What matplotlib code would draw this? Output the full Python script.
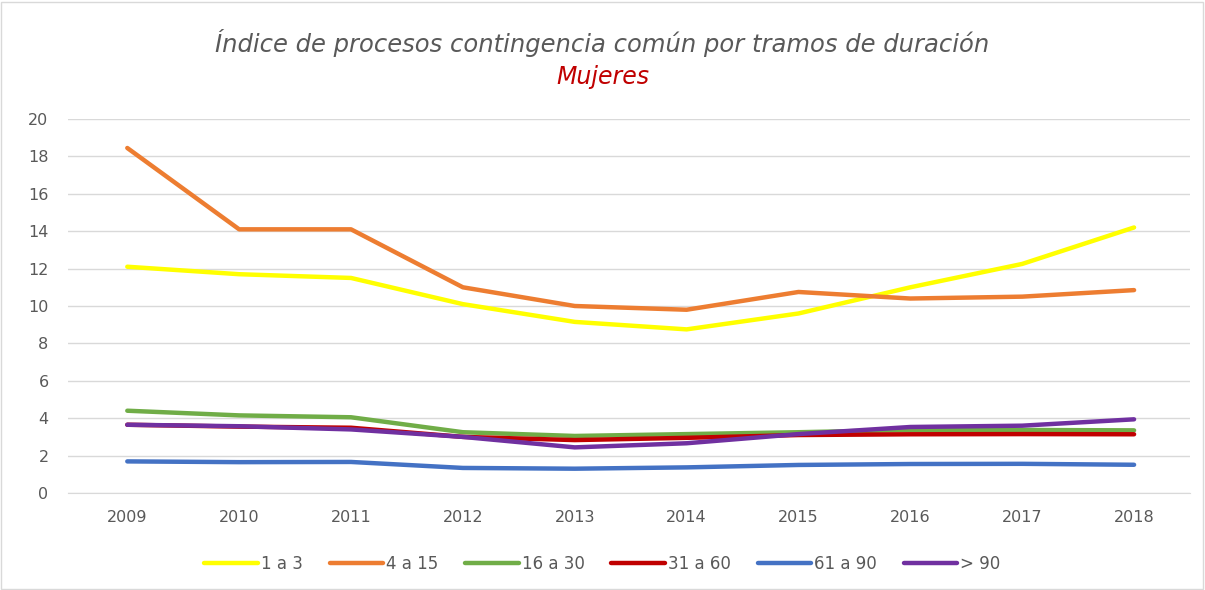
import matplotlib
matplotlib.use("Agg")
import matplotlib.pyplot as plt
from matplotlib.patches import Rectangle

years = ["2009", "2010", "2011", "2012", "2013", "2014", "2015", "2016", "2017", "2018"]
series_names = ["1 a 3", "4 a 15", "16 a 30", "31 a 60", "61 a 90", "> 90"]
s_1a3 = [12.1, 11.7, 11.5, 10.1, 9.15, 8.75, 9.6, 11.0, 12.25, 14.2]
s_4a15 = [18.45, 14.1, 14.1, 11.0, 10.0, 9.8, 10.75, 10.4, 10.5, 10.85]
s_16a30 = [4.4, 4.15, 4.05, 3.25, 3.05, 3.15, 3.25, 3.37, 3.37, 3.35]
s_31a60 = [3.65, 3.55, 3.49, 3.0, 2.83, 2.95, 3.1, 3.14, 3.15, 3.14]
s_61a90 = [1.69, 1.65, 1.66, 1.34, 1.3, 1.37, 1.5, 1.55, 1.56, 1.51]
s_gt90 = [3.65, 3.57, 3.4, 3.0, 2.44, 2.66, 3.15, 3.53, 3.6, 3.94]
colors = ["#FFFF00", "#ED7D31", "#70AD47", "#C00000", "#4472C4", "#7030A0"]

W, H = 1205, 590
fig = plt.figure(figsize=(W / 100, H / 100), dpi=100)
fig.patches.append(Rectangle((1 / W, 1 / H), (W - 3) / W, (H - 3) / H, transform=fig.transFigure,
                             fill=False, edgecolor="#D9D9D9", linewidth=1))

left, right, top, bottom = 68, 1190, 119, 493
ax = fig.add_axes([left / W, 1 - bottom / H, (right - left) / W, (bottom - top) / H])

x = list(range(len(years)))
all_series = [s_1a3, s_4a15, s_16a30, s_31a60, s_61a90, s_gt90]
for vals, name, c in zip(all_series, series_names, colors):
    ax.plot(x, vals, color=c, linewidth=3.2, label=name, solid_capstyle="round", solid_joinstyle="round")

ax.set_ylim(0, 20)
ax.set_yticks(range(0, 21, 2))
ax.set_xlim(-0.53, len(years) - 0.5)
ax.set_xticks(x)
ax.set_xticklabels(years)
ax.grid(axis="y", color="#D9D9D9", linewidth=1)
ax.set_axisbelow(True)
for s in ["top", "right", "left"]:
    ax.spines[s].set_visible(False)
ax.spines["bottom"].set_color("#D9D9D9")
ax.tick_params(axis="both", length=0, labelsize=11.5, labelcolor="#595959")
ax.tick_params(axis="x", pad=12)
ax.tick_params(axis="y", pad=14)

fig.text(0.5, 1 - 43 / H, "Índice de procesos contingencia común por tramos de duración",
         ha="center", va="center", fontsize=17.5, style="italic", color="#595959",
         family="DejaVu Sans")
fig.text(0.5, 1 - 77 / H, "Mujeres", ha="center", va="center", fontsize=17,
         style="italic", color="#C00000", family="DejaVu Sans")

leg = fig.legend(loc="center", bbox_to_anchor=(0.5, 1 - 564 / H), ncol=6, frameon=False,
                 fontsize=12, handlelength=3.2, handletextpad=0.2, columnspacing=1.6)
for t in leg.get_texts():
    t.set_color("#595959")

fig.savefig("out.png", dpi=100)
